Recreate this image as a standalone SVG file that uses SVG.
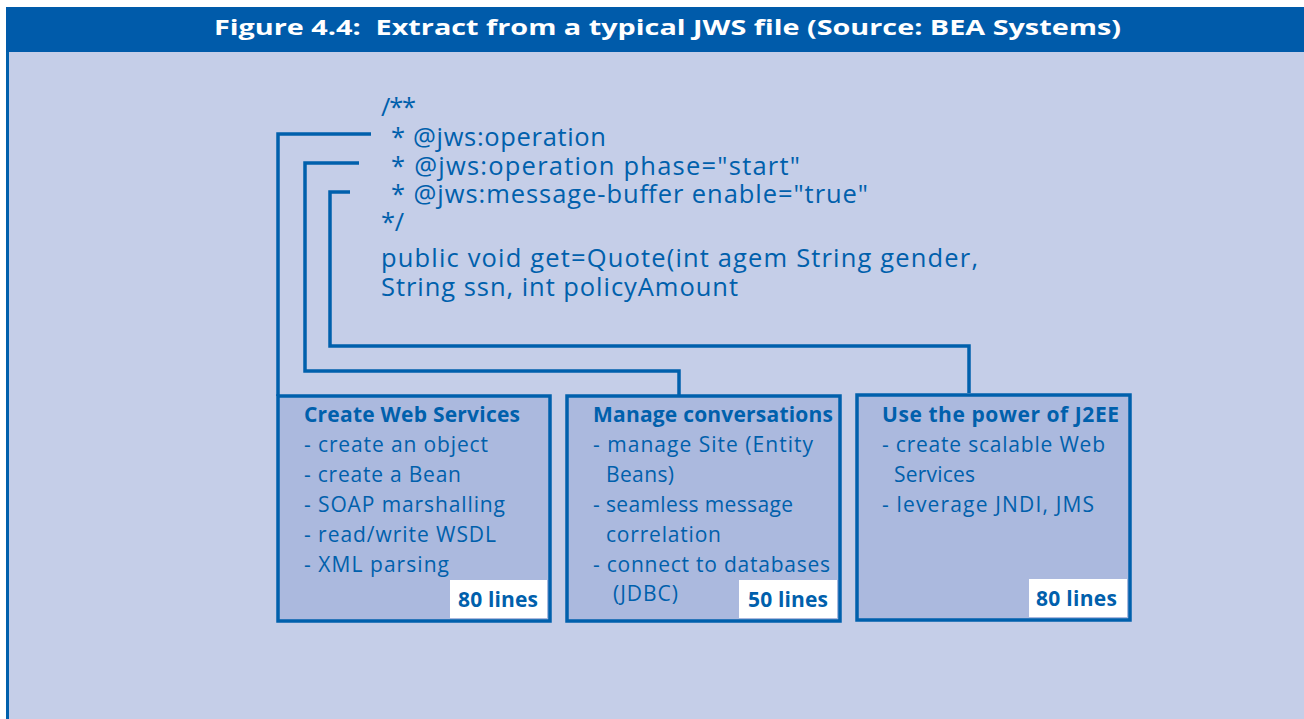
<svg xmlns="http://www.w3.org/2000/svg" width="1304" height="719" viewBox="0 0 1304 719">
<style>
.code{font-family:"Open Sans","Noto Sans",sans-serif;font-size:25.5px;fill:#0060AC}
.t{font-family:"Open Sans","Noto Sans",sans-serif;font-size:21px;fill:#0060AC}
.b{font-weight:bold}
.box{fill:#ABB9DE;stroke:#0060AC;stroke-width:3.5}
.lbl{fill:#FFFFFF}
.con{fill:none;stroke:#0060AC;stroke-width:3.5}
</style>
<rect x="0" y="0" width="1304" height="719" fill="#FFFFFF"/>
<rect x="6" y="52" width="1298" height="667" fill="#C5CEE8"/>
<rect x="6" y="52" width="3" height="667" fill="#0060AC"/>
<rect x="6" y="7" width="1298" height="45" fill="#005BAA"/>
<text x="214" y="35" xml:space="preserve" font-family="'Open Sans','Noto Sans',sans-serif" font-weight="bold" font-size="22" fill="#FFFFFF" textLength="907" lengthAdjust="spacingAndGlyphs">Figure 4.4:  Extract from a typical JWS file (Source: BEA Systems)</text>
<g id="code">
<text class="code" x="381" y="116" textLength="35">/**</text>
<text class="code" x="391" y="146" textLength="215">* @jws:operation</text>
<text class="code" x="391" y="175" textLength="409">* @jws:operation phase="start"</text>
<text class="code" x="391" y="203" textLength="477">* @jws:message-buffer enable="true"</text>
<text class="code" x="381" y="231" textLength="23">*/</text>
<text class="code" x="381" y="267" textLength="597">public void get=Quote(int agem String gender,</text>
<text class="code" x="381" y="296" textLength="357">String ssn, int policyAmount</text>
</g>
<g id="connectors">
<polyline class="con" points="371,134 278,134 278,396"/>
<polyline class="con" points="359,163 305,163 305,371 679,371 679,396"/>
<polyline class="con" points="350,192 330,192 330,346 969,346 969,393"/>
</g>
<g id="box1">
<rect class="box" x="278" y="396" width="272" height="225"/>
<text class="t b" x="304" y="422" textLength="216">Create Web Services</text>
<text class="t" x="304" y="452" textLength="184">- create an object</text>
<text class="t" x="304" y="482" textLength="157">- create a Bean</text>
<text class="t" x="304" y="512" textLength="201">- SOAP marshalling</text>
<text class="t" x="304" y="542" textLength="192">- read/write WSDL</text>
<text class="t" x="304" y="572" textLength="145">- XML parsing</text>
<rect class="lbl" x="450" y="580" width="97" height="38"/>
<text class="t b" x="458" y="607" textLength="80">80 lines</text>
</g>
<g id="box2">
<rect class="box" x="567" y="396" width="273" height="225"/>
<text class="t b" x="593" y="422" textLength="240">Manage conversations</text>
<text class="t" x="593" y="452" textLength="220">- manage Site (Entity</text>
<text class="t" x="606" y="482" textLength="68">Beans)</text>
<text class="t" x="593" y="512" textLength="200">- seamless message</text>
<text class="t" x="606" y="542" textLength="115">correlation</text>
<text class="t" x="593" y="572" textLength="237">- connect to databases</text>
<text class="t" x="613" y="601" textLength="65">(JDBC)</text>
<rect class="lbl" x="739" y="580" width="98" height="38"/>
<text class="t b" x="748" y="607" textLength="80">50 lines</text>
</g>
<g id="box3">
<rect class="box" x="857" y="395" width="273" height="225"/>
<text class="t b" x="882" y="422" textLength="237">Use the power of J2EE</text>
<text class="t" x="882" y="452" textLength="223">- create scalable Web</text>
<text class="t" x="894" y="482" textLength="81">Services</text>
<text class="t" x="882" y="512" textLength="212">- leverage JNDI, JMS</text>
<rect class="lbl" x="1029" y="579" width="98" height="38"/>
<text class="t b" x="1036" y="606" textLength="81">80 lines</text>
</g>
</svg>
